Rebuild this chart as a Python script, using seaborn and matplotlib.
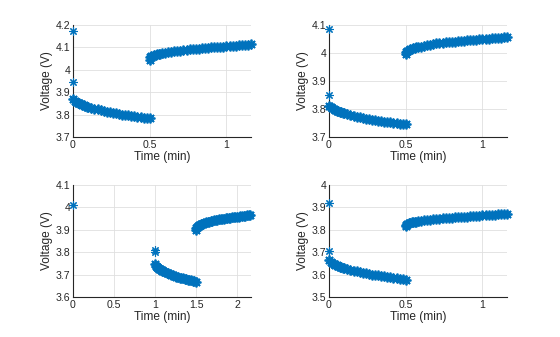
import matplotlib
matplotlib.use("Agg")
import matplotlib.pyplot as plt
import seaborn as sns
import pandas as pd

# ---------------- data ----------------
decay_t = [0.00, 0.01, 0.02, 0.03, 0.04, 0.05, 0.06, 0.07, 0.08, 0.09, 0.10, 0.12, 0.14,
           0.16, 0.18, 0.20, 0.22, 0.24, 0.26, 0.28, 0.30, 0.32, 0.34, 0.36, 0.38, 0.40,
           0.42, 0.44, 0.46, 0.48, 0.50]
rise_t = [0.50, 0.505, 0.51, 0.52, 0.53, 0.54, 0.55, 0.56, 0.57, 0.58, 0.60, 0.62, 0.64,
          0.66, 0.68, 0.70, 0.72, 0.74, 0.76, 0.78, 0.80, 0.82, 0.84, 0.86, 0.88, 0.90,
          0.92, 0.94, 0.96, 0.98, 1.00, 1.02, 1.04, 1.06, 1.08, 1.10, 1.12, 1.14, 1.16]
decay3_t = [1.00, 1.01, 1.02, 1.03, 1.04, 1.05, 1.06, 1.07, 1.08, 1.09, 1.10, 1.12, 1.14,
            1.16, 1.18, 1.20, 1.22, 1.24, 1.26, 1.28, 1.30, 1.32, 1.34, 1.36, 1.38, 1.40,
            1.42, 1.44, 1.46, 1.48, 1.50]
rise3_t = [1.50, 1.505, 1.51, 1.52, 1.53, 1.54, 1.55, 1.56, 1.57, 1.58, 1.60, 1.62, 1.64,
           1.66, 1.68, 1.70, 1.72, 1.74, 1.76, 1.78, 1.80, 1.82, 1.84, 1.86, 1.88, 1.90,
           1.92, 1.94, 1.96, 1.98, 2.00, 2.02, 2.04, 2.06, 2.08, 2.10, 2.12, 2.14, 2.16]

# panel 1 (top left)
p1_spike_t = [0.0, 0.0]
p1_spike_v = [4.175, 3.945]
p1_decay_v = [3.870, 3.862, 3.857, 3.853, 3.850, 3.847, 3.844, 3.841, 3.839, 3.836, 3.834,
              3.830, 3.826, 3.823, 3.819, 3.816, 3.813, 3.810, 3.808, 3.805, 3.803, 3.800,
              3.798, 3.796, 3.794, 3.792, 3.790, 3.789, 3.787, 3.786, 3.784]
p1_rise_v = [4.045, 4.055, 4.060, 4.063, 4.065, 4.067, 4.069, 4.070, 4.072, 4.073, 4.076,
             4.078, 4.080, 4.082, 4.084, 4.086, 4.088, 4.089, 4.091, 4.092, 4.094, 4.095,
             4.096, 4.098, 4.099, 4.100, 4.101, 4.102, 4.103, 4.104, 4.105, 4.106, 4.107,
             4.108, 4.109, 4.110, 4.111, 4.112, 4.113]

# panel 2 (top right)
p2_spike_t = [0.0, 0.0]
p2_spike_v = [4.085, 3.850]
p2_decay_v = [3.812, 3.806, 3.802, 3.799, 3.797, 3.794, 3.792, 3.790, 3.788, 3.786, 3.785,
              3.781, 3.778, 3.776, 3.773, 3.771, 3.768, 3.766, 3.764, 3.762, 3.760, 3.758,
              3.757, 3.755, 3.754, 3.752, 3.751, 3.749, 3.748, 3.747, 3.745]
p2_rise_v = [3.995, 4.003, 4.008, 4.011, 4.013, 4.015, 4.017, 4.018, 4.020, 4.021, 4.023,
             4.026, 4.028, 4.030, 4.032, 4.034, 4.035, 4.037, 4.038, 4.039, 4.040, 4.041,
             4.042, 4.043, 4.044, 4.045, 4.046, 4.047, 4.048, 4.049, 4.050, 4.051, 4.051,
             4.052, 4.053, 4.054, 4.055, 4.056, 4.057]

# panel 3 (bottom left)
p3_spike_t = [0.0, 1.0, 1.0]
p3_spike_v = [4.012, 3.812, 3.800]
p3_decay_v = [3.748, 3.740, 3.735, 3.732, 3.729, 3.726, 3.724, 3.721, 3.719, 3.717, 3.715,
              3.711, 3.708, 3.705, 3.702, 3.699, 3.696, 3.694, 3.691, 3.689, 3.687, 3.685,
              3.683, 3.681, 3.679, 3.677, 3.675, 3.674, 3.672, 3.670, 3.668]
p3_rise_v = [3.900, 3.908, 3.913, 3.917, 3.919, 3.921, 3.923, 3.925, 3.927, 3.928, 3.931,
             3.933, 3.935, 3.937, 3.939, 3.941, 3.942, 3.944, 3.945, 3.947, 3.948, 3.949,
             3.950, 3.951, 3.952, 3.953, 3.954, 3.955, 3.956, 3.957, 3.958, 3.959, 3.960,
             3.961, 3.962, 3.963, 3.964, 3.965, 3.966]

# panel 4 (bottom right)
p4_spike_t = [0.0, 0.0]
p4_spike_v = [3.920, 3.706]
p4_decay_v = [3.664, 3.656, 3.651, 3.648, 3.644, 3.641, 3.638, 3.636, 3.633, 3.631, 3.628,
              3.624, 3.620, 3.617, 3.614, 3.611, 3.608, 3.605, 3.603, 3.600, 3.598, 3.596,
              3.594, 3.592, 3.590, 3.588, 3.586, 3.584, 3.582, 3.580, 3.578]
p4_rise_v = [3.816, 3.823, 3.827, 3.830, 3.832, 3.833, 3.835, 3.836, 3.837, 3.838, 3.840,
             3.842, 3.844, 3.845, 3.847, 3.848, 3.850, 3.851, 3.852, 3.853, 3.854, 3.855,
             3.856, 3.857, 3.858, 3.859, 3.860, 3.861, 3.862, 3.863, 3.864, 3.865, 3.866,
             3.867, 3.868, 3.869, 3.870, 3.871, 3.872]

y_ticks = [
    [3.7, 3.8, 3.9, 4.0, 4.1, 4.2],
    [3.7, 3.8, 3.9, 4.0, 4.1],
    [3.6, 3.7, 3.8, 3.9, 4.0, 4.1],
    [3.5, 3.6, 3.7, 3.8, 3.9, 4.0],
]
y_ticklabels = [
    ["3.7", "3.8", "3.9", "4", "4.1", "4.2"],
    ["3.7", "3.8", "3.9", "4", "4.1"],
    ["3.6", "3.7", "3.8", "3.9", "4", "4.1"],
    ["3.5", "3.6", "3.7", "3.8", "3.9", "4"],
]
x_ticks = [[0, 0.5, 1], [0, 0.5, 1], [0, 0.5, 1, 1.5, 2], [0, 0.5, 1]]
x_ticklabels = [["0", "0.5", "1"], ["0", "0.5", "1"],
                ["0", "0.5", "1", "1.5", "2"], ["0", "0.5", "1"]]
x_max = [1.16, 1.16, 2.17, 1.16]

panels = [
    (p1_spike_t, p1_spike_v, decay_t, p1_decay_v, rise_t, p1_rise_v),
    (p2_spike_t, p2_spike_v, decay_t, p2_decay_v, rise_t, p2_rise_v),
    (p3_spike_t, p3_spike_v, decay3_t, p3_decay_v, rise3_t, p3_rise_v),
    (p4_spike_t, p4_spike_v, decay_t, p4_decay_v, rise_t, p4_rise_v),
]

# ---------------- plot ----------------
sns.set_style("white")
plt.rcParams['font.family'] = ['Liberation Sans', 'DejaVu Sans']

fig = plt.figure(figsize=(5.6, 3.37), dpi=100)
positions = [
    [73 / 560, 1 - 137 / 337, 178 / 560, 112 / 337],
    [329 / 560, 1 - 137 / 337, 178 / 560, 112 / 337],
    [73 / 560, 1 - 297 / 337, 178 / 560, 112 / 337],
    [329 / 560, 1 - 297 / 337, 178 / 560, 112 / 337],
]
color = "#0072BD"
axis_col = "#262626"

for i, (pos, pdata) in enumerate(zip(positions, panels)):
    ax = fig.add_axes(pos)
    st, sv, dt, dv, rt, rv = pdata
    df_spike = pd.DataFrame({"Time (min)": st, "Voltage (V)": sv})
    df_curve = pd.DataFrame({
        "Time (min)": list(dt) + list(rt),
        "Voltage (V)": list(dv) + list(rv),
    })
    sns.lineplot(data=df_spike, x="Time (min)", y="Voltage (V)", ax=ax,
                 estimator=None, sort=False, linestyle="", marker=(8, 2, 0),
                 markersize=6, markeredgewidth=0.8, color=color,
                 markeredgecolor=color, zorder=6, clip_on=False)
    sns.lineplot(data=df_curve, x="Time (min)", y="Voltage (V)", ax=ax,
                 estimator=None, sort=False, linestyle="", marker=(8, 2, 0),
                 markersize=7, markeredgewidth=1.3, color=color,
                 markeredgecolor=color, zorder=6, clip_on=False)
    ax.set_xlim(0, x_max[i])
    ax.set_ylim(y_ticks[i][0], y_ticks[i][-1])
    ax.set_xticks(x_ticks[i])
    ax.set_xticklabels(x_ticklabels[i])
    ax.set_yticks(y_ticks[i])
    ax.set_yticklabels(y_ticklabels[i])
    ax.grid(True, color="#dfdfdf", linewidth=0.6)
    ax.set_axisbelow(True)
    for s in ["top", "right"]:
        ax.spines[s].set_visible(False)
    for s in ["left", "bottom"]:
        ax.spines[s].set_color(axis_col)
        ax.spines[s].set_linewidth(0.8)
        ax.spines[s].set_zorder(5)
    ax.tick_params(direction="in", length=2.5, width=0.6, colors=axis_col,
                   labelsize=7.6, pad=2)
    ax.set_xlabel("Time (min)", fontsize=8.6, color=axis_col, labelpad=1)
    ax.set_ylabel("Voltage (V)", fontsize=8.6, color=axis_col, labelpad=2)

fig.savefig("out.png", dpi=100)
